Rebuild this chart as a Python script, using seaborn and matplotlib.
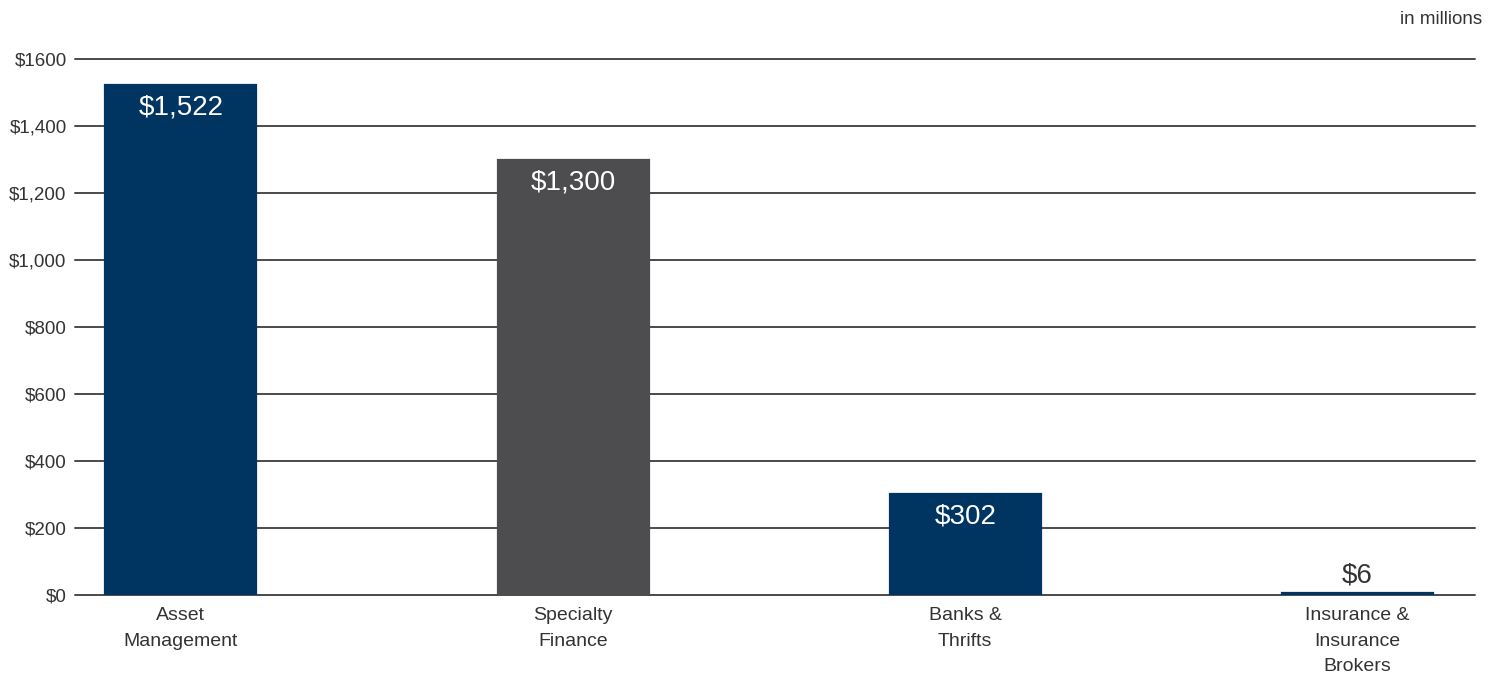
import matplotlib
matplotlib.use("Agg")
import matplotlib.pyplot as plt
import seaborn as sns
import pandas as pd

categories = ["Asset\nManagement", "Specialty\nFinance", "Banks &\nThrifts", "Insurance &\nInsurance\nBrokers"]
values = [1522, 1300, 302, 6]
value_labels = ["$1,522", "$1,300", "$302", "$6"]
bar_colors = ["#003461", "#4d4d4f", "#003461", "#003461"]
y_ticks = [0, 200, 400, 600, 800, 1000, 1200, 1400, 1600]
y_tick_labels = ["$0", "$200", "$400", "$600", "$800", "$1,000", "$1,200", "$1,400", "$1600"]

sns.set_theme(style="white")
plt.rcParams["font.family"] = ["Liberation Sans", "DejaVu Sans"]

df = pd.DataFrame({"category": categories, "value": values})

fig = plt.figure(figsize=(14.97, 6.81), dpi=100)
ax = fig.add_axes([75 / 1497, 1 - 595 / 681, 1400 / 1497, 536 / 681])

sns.barplot(data=df, x="category", y="value", hue="category",
            palette=bar_colors, legend=False, width=0.385,
            saturation=1, ax=ax, zorder=3)

# outline each bar in its own fill colour so the smallest bar stays visible
for patch, c in zip(ax.patches, bar_colors):
    patch.set_edgecolor(c)
    patch.set_linewidth(1.6)

ax.set_xlim(-0.27, 3.30)
ax.set_ylim(0, 1600)
ax.set_yticks(y_ticks)
ax.set_yticklabels(y_tick_labels)
ax.set_xlabel("")
ax.set_ylabel("")

for y in y_ticks:
    ax.axhline(y, color="#4a4a4a", lw=1.4, zorder=1, clip_on=False)

for s in ax.spines.values():
    s.set_visible(False)

ax.tick_params(axis="y", length=0, pad=6, labelsize=13.5, labelcolor="#333333")
ax.tick_params(axis="x", length=0, pad=9, labelsize=14, labelcolor="#333333")
for lbl in ax.get_xticklabels():
    lbl.set_linespacing(1.65)

for i, (v, txt) in enumerate(zip(values, value_labels)):
    if v > 100:
        ax.annotate(txt, (i, v), xytext=(0, -7), textcoords="offset points",
                    ha="center", va="top", color="white", fontsize=20, zorder=4)
    else:
        ax.annotate(txt, (i, v), xytext=(0, 3), textcoords="offset points",
                    ha="center", va="bottom", color="#333333", fontsize=20, zorder=4)

fig.text(1482 / 1497, 1 - 20 / 681, "in millions", ha="right", va="center",
         fontsize=13.5, color="#333333")

fig.savefig("out.png", dpi=100)
